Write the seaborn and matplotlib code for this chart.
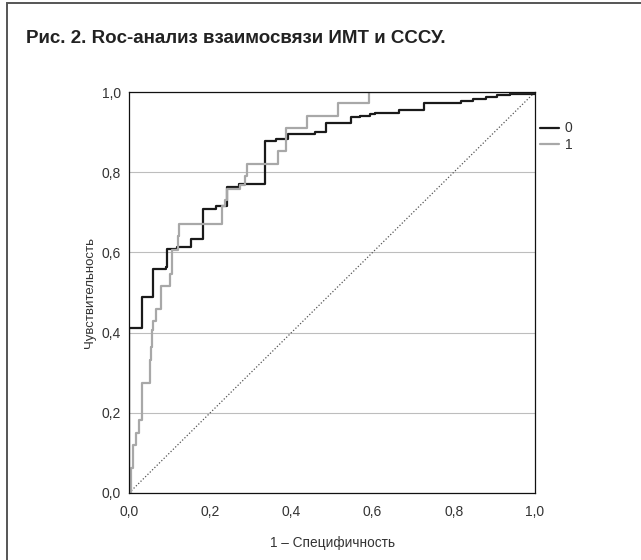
import matplotlib
matplotlib.use('Agg')
import matplotlib.pyplot as plt
import matplotlib.patches as mpatches
from matplotlib.ticker import FuncFormatter
import pandas as pd
import seaborn as sns

# ROC points (value after each jump)
fpr_0 = [0, 0, 0.031, 0.060, 0.090, 0.093, 0.119, 0.152, 0.183, 0.214, 0.242, 0.271,
         0.334, 0.362, 0.392, 0.458, 0.485, 0.547, 0.570, 0.594, 0.606, 0.666, 0.727,
         0.817, 0.847, 0.879, 0.906, 0.938, 1.0]
tpr_0 = [0, 0.412, 0.488, 0.558, 0.563, 0.608, 0.613, 0.633, 0.709, 0.716, 0.762, 0.770,
         0.879, 0.883, 0.895, 0.901, 0.923, 0.937, 0.940, 0.944, 0.948, 0.956, 0.973,
         0.978, 0.983, 0.988, 0.992, 0.995, 1.0]
fpr_1 = [0, 0.005, 0.011, 0.017, 0.024, 0.031, 0.052, 0.054, 0.057, 0.060, 0.066, 0.078,
         0.101, 0.107, 0.120, 0.124, 0.230, 0.236, 0.242, 0.273, 0.286, 0.290, 0.368,
         0.387, 0.439, 0.516, 0.590, 1.0]
tpr_1 = [0, 0.062, 0.120, 0.150, 0.182, 0.275, 0.332, 0.365, 0.406, 0.430, 0.458, 0.517,
         0.546, 0.606, 0.641, 0.670, 0.716, 0.731, 0.757, 0.768, 0.791, 0.820, 0.853,
         0.909, 0.941, 0.972, 1.0, 1.0]
groups = ['0', '1']
ticks = [0.0, 0.2, 0.4, 0.6, 0.8, 1.0]

title = 'Рис. 2. Roc-анализ взаимосвязи ИМТ и СССУ.'
x_label = '1 – Специфичность'
y_label = 'Чувствительность'

sns.set_theme(style='white')
plt.rcParams['font.family'] = ['Liberation Sans', 'DejaVu Sans']
c = '#333333'

df = pd.concat([
    pd.DataFrame({'fpr': fpr_0, 'tpr': tpr_0, 'group': groups[0]}),
    pd.DataFrame({'fpr': fpr_1, 'tpr': tpr_1, 'group': groups[1]}),
], ignore_index=True)

fig = plt.figure(figsize=(6.41, 5.6), dpi=100)
ax = fig.add_axes([129 / 641, 1 - 493 / 560, 406 / 641, 401 / 560])

ax.yaxis.grid(True, color='#bdbdbd', lw=0.8)
ax.set_axisbelow(True)
ax.axline((0, 0), slope=1, color='#555555', lw=0.9, ls=(0, (1, 1.6)))
sns.lineplot(data=df, x='fpr', y='tpr', hue='group', hue_order=groups,
             palette={'0': '#1a1a1a', '1': '#a8a8a8'}, estimator=None, sort=False,
             drawstyle='steps-post', lw=1.6, ax=ax)

ax.set_xlim(0, 1)
ax.set_ylim(0, 1)
ax.set_xticks(ticks)
ax.set_yticks(ticks)
fmt = FuncFormatter(lambda v, p: '{:.1f}'.format(v).replace('.', ','))
ax.xaxis.set_major_formatter(fmt)
ax.yaxis.set_major_formatter(fmt)
ax.tick_params(axis='both', length=0, labelsize=10, labelcolor=c)
ax.tick_params(axis='y', pad=6)
ax.tick_params(axis='x', pad=9)
for s in ax.spines.values():
    s.set_color('#111111')
    s.set_linewidth(0.9)

ax.set_xlabel(x_label, fontsize=9.8, color=c, labelpad=12)
ax.set_ylabel(y_label, fontsize=9.5, color=c, labelpad=4)

sns.move_legend(ax, loc='center left', bbox_to_anchor=(1.012, 0.889), title=None,
                frameon=False, fontsize=10, handlelength=1.4, handletextpad=0.4,
                labelspacing=0.15, borderpad=0, borderaxespad=0)
for t in ax.get_legend().get_texts():
    t.set_color(c)

fig.text(26 / 641, 1 - 38.5 / 560, title, fontsize=13.5, fontweight='bold',
         color='#222222', ha='left', va='center')

# frame around the figure (left and top edges visible)
fig.add_artist(mpatches.Rectangle((7 / 641, -0.05), 1.1, 1.05 - 3 / 560, fill=False,
                                  edgecolor='#555555', lw=1.4,
                                  transform=fig.transFigure, clip_on=False))

fig.savefig('out.png', dpi=100)
